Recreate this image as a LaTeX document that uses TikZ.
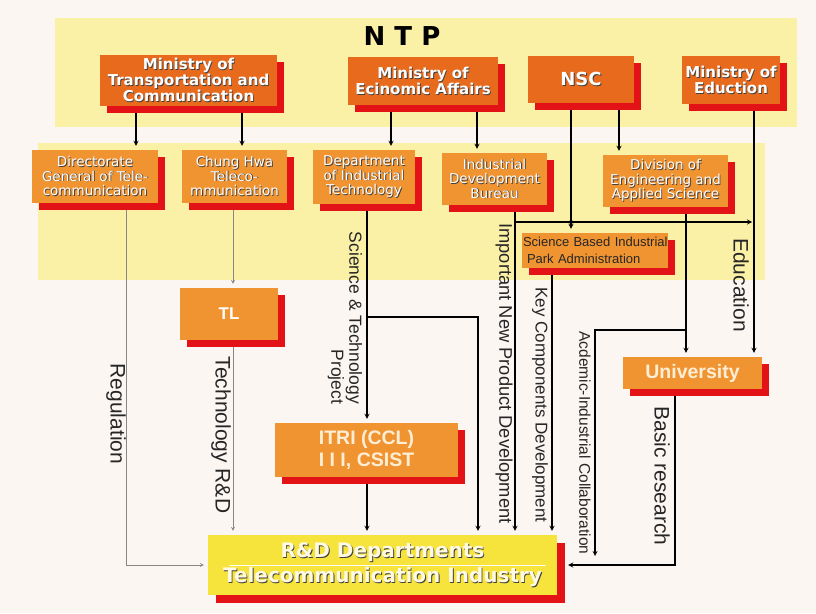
\documentclass[tikz,border=0pt]{standalone}
\usepackage{fontspec}
\setmainfont{Liberation Sans}
\newfontfamily\dejavu{DejaVu Sans}
\usetikzlibrary{shadows}
\definecolor{bgpink}{RGB}{252,246,243}
\definecolor{bandyel}{RGB}{250,240,166}
\definecolor{orgdark}{RGB}{232,106,28}
\definecolor{orglight}{RGB}{240,148,50}
\definecolor{shred}{RGB}{226,18,22}
\definecolor{rdyel}{RGB}{246,228,60}
\definecolor{rdtext}{RGB}{255,250,225}
\definecolor{txtlight}{RGB}{255,238,214}
\definecolor{inkgray}{RGB}{135,135,135}
\pgfdeclarelayer{back}
\pgfdeclarelayer{lines}
\pgfsetlayers{back,lines,main}
\newcommand\shtx[1]{\leavevmode\rlap{\kern0.9pt\raisebox{-0.9pt}{\textcolor{black!75}{#1}}}#1}
\tikzset{
  box/.style={rectangle, inner sep=0pt, align=center,
    drop shadow={shadow xshift=#1, shadow yshift=-#1, fill=shred, opacity=1}},
  box/.default=7pt,
  topbox/.style={box, fill=orgdark, text=white, font=\dejavu\bfseries\fontsize{15}{16}\selectfont},
  subbox/.style={box, fill=orglight, text=white, font=\dejavu\fontsize{13.5}{14.5}\selectfont},
  lowbox/.style={box, fill=orglight, text=txtlight, font=\bfseries\fontsize{19.5}{22}\selectfont},
  lbl/.style={rotate=-90, inner sep=0pt, text=black!85, font=\fontsize{21}{21}\selectfont},
  link/.style={->, line width=1.2pt, shorten >=4pt},
  glink/.style={->, inkgray, line width=0.7pt, shorten >=4pt},
}
\begin{document}
\begin{tikzpicture}[x=1pt, y=-1pt, >=stealth, line join=round, line cap=round]
	\def\xdgt{136} \def\xcht{242} \def\xdit{391} \def\xidb{477} % upper links
	\def\xnsc{571} \def\xdeas{619} \def\xmoe{754}
	\def\xreg{126} \def\xtl{233} \def\xst{367} \def\xsb{478} % lower links
	\def\xinp{515} \def\xkc{552} \def\xaic{595} \def\xuni{686} \def\xbr{675}
	\def\yh{222} \def\ysb{317} \def\yaic{330}
	\useasboundingbox (0,0) rectangle (816,613);
	\begin{pgfonlayer}{back}
		\fill[bgpink] (0,0) rectangle (816,613);
		\fill[bandyel] (55,18) rectangle (797,127);
		\fill[bandyel] (38,143) rectangle (765,280);
	\end{pgfonlayer}
	\node (ntp) at (402,36) {\dejavu\bfseries\fontsize{26}{26}\selectfont N T P};
	% ministries
	\node[topbox, minimum width=177pt, minimum height=51pt] (mtc) at (188.5,80.5) {\shtx{Ministry of}\\\shtx{Transportation and}\\\shtx{Communication}};
	\node[topbox, minimum width=150pt, minimum height=48pt] (mea) at (423,81) {\shtx{Ministry of}\\\shtx{Ecinomic Affairs}};
	\node[topbox, minimum width=106pt, minimum height=47pt, font=\dejavu\bfseries\fontsize{18}{18}\selectfont] (nsc) at (581,79) {\shtx{NSC}};
	\node[topbox, minimum width=98pt, minimum height=48pt] (moe) at (731,80) {\shtx{Ministry of}\\\shtx{Eduction}};
	% second row
	\node[subbox, minimum width=126pt, minimum height=53pt] (dgt) at (95,176.5) {\shtx{Directorate}\\\shtx{General of Tele-}\\\shtx{communication}};
	\node[subbox, minimum width=105pt, minimum height=53pt] (cht) at (234.5,176.5) {\shtx{Chung Hwa}\\\shtx{Teleco-}\\\shtx{mmunication}};
	\node[subbox, minimum width=102pt, minimum height=54pt] (dit) at (364,177) {\shtx{Department}\\\shtx{of Industrial}\\\shtx{Technology}};
	\node[subbox, minimum width=105pt, minimum height=52pt] (idb) at (494.5,179) {\shtx{Industrial}\\\shtx{Development}\\\shtx{Bureau}};
	\node[subbox, minimum width=125pt, minimum height=52pt] (deas) at (665.5,181) {\shtx{Division of}\\\shtx{Engineering and}\\\shtx{Applied Science}};
	\node[box, fill=orglight, text=black!85, font=\fontsize{13}{17}\selectfont, align=left, text width=146pt, minimum height=35pt, inner xsep=0pt] (sbipa) at (595,250.5) {\hspace*{1pt}Science Based Industrial\\\hspace*{5pt}Park Administration};
	% lower boxes
	\node[lowbox, minimum width=98pt, minimum height=52pt, text=white, font=\bfseries\fontsize{17}{17}\selectfont] (tl) at (229,314) {TL};
	\node[lowbox, minimum width=183pt, minimum height=54pt] (itri) at (366.5,450) {ITRI (CCL)\\I I I, CSIST};
	\node[lowbox, minimum width=139pt, minimum height=32pt] (univ) at (692.5,373) {University};
	\node[box=8pt, fill=rdyel, text=rdtext, font=\dejavu\bfseries\fontsize{20}{25}\selectfont, minimum width=349pt, minimum height=60pt] (rd) at (382.5,565) {\shtx{R\&D Departments}\\\shtx{Telecommunication Industry}};
	\draw[white, line width=0.6pt] ([xshift=22pt]rd.west) -- ([xshift=-12pt]rd.east);
	% labels
	\node[lbl] (reg) at (116,414) {Regulation};
	\node[lbl] (tecrd) at (221,435) {Technology R\&D};
	\node[lbl, align=right, font=\fontsize{17.5}{18}\selectfont] (stp) at (345,318) {Science \& Technology\\Project};
	\node[lbl, font=\fontsize{18.3}{18}\selectfont] (inpd) at (504,373.5) {Important New Product Development};
	\node[lbl, font=\fontsize{17}{17}\selectfont] (kcd) at (540,405) {Key Components Development};
	\node[lbl, font=\fontsize{15.5}{15}\selectfont] (aic) at (585,443) {Acdemic-Industrial Collaboration};
	\node[lbl] (edu) at (741,285) {Education};
	\node[lbl] (basic) at (662,476) {Basic research};
	\coordinate (hstart) at (\xinp,\yh);
	\coordinate (hend) at (\xmoe,\yh);
	\coordinate (aicend) at (\xaic,556);
	\begin{pgfonlayer}{lines}
		\draw[link] (\xdgt,0 |- mtc.south) -- (\xdgt,0 |- dgt.north);
		\draw[link] (\xcht,0 |- mtc.south) -- (\xcht,0 |- cht.north);
		\draw[link] (\xdit,0 |- mea.south) -- (\xdit,0 |- dit.north);
		\draw[link] (\xidb,0 |- mea.south) -- (\xidb,0 |- idb.north);
		\draw[link] (\xdeas,0 |- nsc.south) -- (\xdeas,0 |- deas.north);
		\draw[link] (\xnsc,0 |- nsc.south) -- (\xnsc,0 |- sbipa.north);
		\fill (\xnsc,\yh) circle (2pt);
		\draw[link] (\xmoe,0 |- moe.south) -- (\xmoe,0 |- univ.north);
		\draw[link] (\xuni,0 |- deas.south) -- (\xuni,0 |- univ.north);
		\draw[link, shorten >=2pt] (hstart) -- (hend);
		\draw[link] (\xinp,0 |- idb.south) -- (\xinp,0 |- rd.north);
		\draw[link] (\xkc,0 |- sbipa.south) -- (\xkc,0 |- rd.north);
		\draw[link] (\xst,0 |- dit.south) -- (\xst,0 |- itri.north);
		\draw[link] (\xst,\ysb) -| (\xsb,0 |- rd.north);
		\draw[link] (\xst,0 |- itri.south) -- (\xst,0 |- rd.north);
		\draw[link, shorten >=0pt] (\xuni,\yaic) -| (aicend);
		\draw[link, shorten >=1pt] (\xbr,0 |- univ.south) |- ([xshift=10pt]rd.east);
		\draw[glink] (\xreg,0 |- dgt.south) |- (rd.west);
		\draw[glink] (\xtl,0 |- cht.south) -- (\xtl,0 |- tl.north);
		\draw[glink] (\xtl,0 |- tl.south) -- (\xtl,0 |- rd.north);
	\end{pgfonlayer}
\end{tikzpicture}
\end{document}
